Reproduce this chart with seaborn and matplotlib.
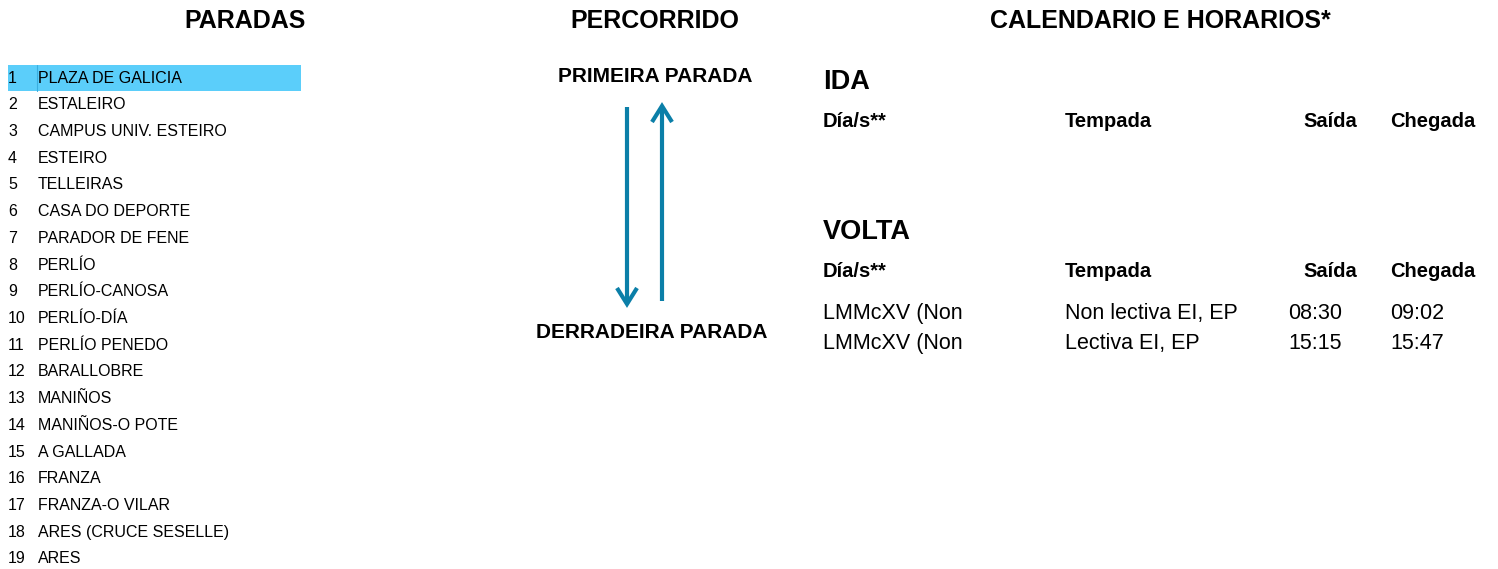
import matplotlib
matplotlib.use("Agg")
import matplotlib.pyplot as plt
from matplotlib.patches import Rectangle
import seaborn as sns

# Data
stops = ["PLAZA DE GALICIA", "ESTALEIRO", "CAMPUS UNIV. ESTEIRO", "ESTEIRO", "TELLEIRAS",
         "CASA DO DEPORTE", "PARADOR DE FENE", "PERLÍO", "PERLÍO-CANOSA", "PERLÍO-DÍA",
         "PERLÍO PENEDO", "BARALLOBRE", "MANIÑOS", "MANIÑOS-O POTE", "A GALLADA",
         "FRANZA", "FRANZA-O VILAR", "ARES (CRUCE SESELLE)", "ARES"]
highlight_stop = 1

section_titles = ["PARADAS", "PERCORRIDO", "CALENDARIO E HORARIOS*"]
route_ends = ["PRIMEIRA PARADA", "DERRADEIRA PARADA"]
table_headers = ["Día/s**", "Tempada", "Saída", "Chegada"]

ida_days = []
ida_season = []
ida_dep = []
ida_arr = []

volta_days = ["LMMcXV (Non", "LMMcXV (Non"]
volta_season = ["Non lectiva EI, EP", "Lectiva EI, EP"]
volta_dep = ["08:30", "15:15"]
volta_arr = ["09:02", "15:47"]

sns.set_theme(style="white")
plt.rcParams["font.family"] = ["Liberation Sans", "DejaVu Sans"]

fig = plt.figure(figsize=(14.98, 5.69), dpi=100)
ax = fig.add_axes([0, 0, 1, 1])
ax.set_xlim(0, 1498)
ax.set_ylim(569, 0)
ax.axis("off")

# Section titles
for x, t in zip([245, 655, 1160], section_titles):
    ax.text(x, 21, t, ha="center", va="center", fontsize=18, fontweight="bold", color="black")

# Stops list
row_h = 26.72
for i, name in enumerate(stops):
    y = 78 + i * row_h
    if i + 1 == highlight_stop:
        ax.barh(y, 293, height=26, left=8, color="#5bcefa", edgecolor="none")
        ax.plot([37, 37], [y - 13, y + 13], color="#3aaee0", lw=0.8)
    ax.text(8, y, str(i + 1), ha="left", va="center", fontsize=11.5, color="black")
    ax.text(38, y, name, ha="left", va="center", fontsize=11.5, color="black")

# Route arrows
arrow_col = "#0b7fa8"
ax.plot([627, 627], [107, 303], color=arrow_col, lw=3, solid_capstyle="butt")
ax.plot([617, 627, 637], [288, 304, 288], color=arrow_col, lw=3,
        solid_capstyle="butt", solid_joinstyle="miter")
ax.plot([662, 662], [301, 107], color=arrow_col, lw=3, solid_capstyle="butt")
ax.plot([652, 662, 672], [122, 106, 122], color=arrow_col, lw=3,
        solid_capstyle="butt", solid_joinstyle="miter")

ax.text(655, 76, route_ends[0], ha="center", va="center", fontsize=15, fontweight="bold", color="black")
# last stop label is cut by its cell on the left
t = ax.text(652, 332, route_ends[1], ha="center", va="center", fontsize=15, fontweight="bold", color="black")
t.set_clip_path(Rectangle((540, 300), 260, 60, transform=ax.transData))

# Schedule tables
col_x = [823, 1065, 1303, 1390]
val_x = [823, 1065, 1288, 1390]

def draw_table(label, y0, days, season, dep, arr):
    ax.text(823, y0, label, ha="left", va="center", fontsize=19.5, fontweight="bold", color="black")
    for x, h in zip(col_x, table_headers):
        ax.text(x, y0 + 39, h, ha="left", va="center", fontsize=14.5, fontweight="bold", color="black")
    for j, row in enumerate(zip(days, season, dep, arr)):
        y = y0 + 81 + j * 30
        for x, v in zip(val_x, row):
            ax.text(x, y, v, ha="left", va="center", fontsize=15.5, color="black")

draw_table("IDA", 82, ida_days, ida_season, ida_dep, ida_arr)
draw_table("VOLTA", 232, volta_days, volta_season, volta_dep, volta_arr)

fig.savefig("out.png", dpi=100)
